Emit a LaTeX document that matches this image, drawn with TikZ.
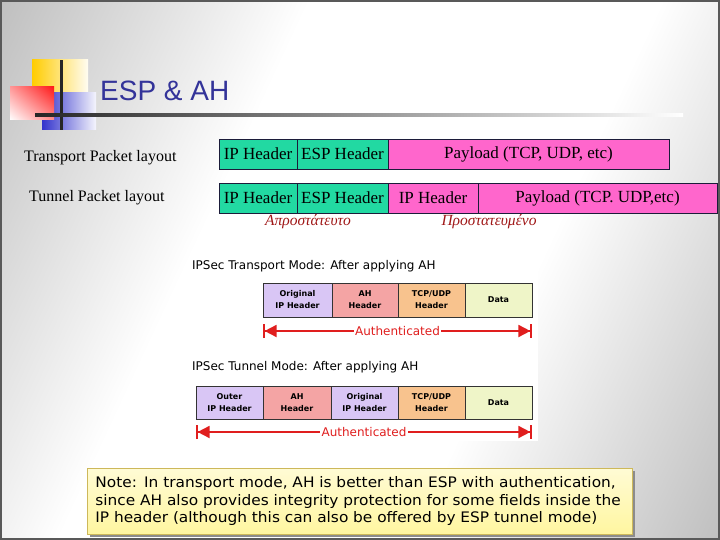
\documentclass[tikz,border=0pt]{standalone}
\usepackage{fontspec}
\setmainfont{Liberation Serif}
\newfontfamily\ttlfont{Liberation Sans}
\newfontfamily\comicfont{DejaVu Sans}
\newfontfamily\notefont[FakeStretch=1.06]{DejaVu Sans}
\usepackage{tikz}
\usetikzlibrary{arrows.meta,positioning,shadows,shadings}
\definecolor{ttl}{HTML}{333399}
\definecolor{mint}{HTML}{22D9A2}
\definecolor{magn}{HTML}{FF66CC}
\definecolor{edge}{HTML}{1C1C3A}
\definecolor{grk}{HTML}{A01818}
\definecolor{lav}{HTML}{D9C6F5}
\definecolor{rose}{HTML}{F4A4A4}
\definecolor{tang}{HTML}{F8C38E}
\definecolor{lime}{HTML}{EFF5C8}
\definecolor{authred}{HTML}{E01E1E}
\definecolor{notefill}{HTML}{FFF6A0}
\definecolor{noteedge}{HTML}{CDB85A}
\definecolor{yel}{HTML}{FFCC00}
\definecolor{blu}{HTML}{3333CC}
\pgfdeclarehorizontalshading{slidebg}{100bp}{color(0bp)=(black!45); color(38bp)=(white); color(62bp)=(white); color(100bp)=(black!45)}
\tikzset{
  pkt/.style={draw=edge,line width=0.8pt,minimum height=30pt,inner sep=0pt,outer sep=0pt,font=\fontsize{17}{17}\selectfont},
  gpkt/.style={pkt,fill=mint},
  mpkt/.style={pkt,fill=magn},
  ahbox/.style={draw=black!80,line width=0.6pt,inner sep=0pt,outer sep=0pt,align=center,font=\comicfont\bfseries\fontsize{8}{12}\selectfont},
  lab/.style={font=\fontsize{16}{16}\selectfont,anchor=west,inner sep=0pt},
  grklab/.style={font=\itshape\fontsize{15.5}{15.5}\selectfont,text=grk},
  modecap/.style={font=\comicfont\fontsize{12}{12}\selectfont,anchor=west,inner sep=0pt},
  auth/.style={{Bar[width=14pt,line width=1.6pt]Triangle[length=12pt,width=12pt]}-{Triangle[length=12pt,width=12pt]Bar[width=14pt,line width=1.6pt]},draw=authred,line width=1.8pt},
  authlab/.style={fill=white,inner sep=1.5pt,text=authred,font=\comicfont\fontsize{12}{12}\selectfont},
  note/.style={draw=noteedge,line width=0.8pt,top color=notefill!45!white,bottom color=notefill,
    drop shadow={shadow xshift=2.5pt,shadow yshift=-2.5pt,fill=black!45,opacity=1},
    text width=529pt,inner xsep=8pt,minimum height=66pt,align=left,
    font=\notefont\fontsize{14.5}{17.5}\selectfont},
}
\begin{document}
\begin{tikzpicture}[x=1pt,y=-1pt]
\useasboundingbox (0,0) rectangle (720,540);
\shade[shading=slidebg,shading angle=-25] (0,0) rectangle (720,540);
\draw[black!65,line width=2pt] (1,1) rectangle (719,539);
\shade[left color=yel,right color=yel!5] (32,60) rectangle (88,93);
\shade[left color=blu,right color=blu!5] (42,93) rectangle (96,130);
\shade[upper right=red!90,lower left=white,upper left=red!40!white,lower right=red!45!white] (10,87) rectangle (54,120);
\fill[black!85] (59.5,60) rectangle (62.5,130);
\shade[left color=black!85,right color=white] (35,113.5) rectangle (683,116.5);
\node[anchor=base west,inner sep=0pt,text=ttl,font=\ttlfont\fontsize{28}{28}\selectfont] (title) at (100,101) {ESP \& AH};

\node[lab] (tpl) at (24,158) {Transport Packet layout};
\node[lab] (tnl) at (29,198) {Tunnel Packet layout};
\node[gpkt,minimum width=78pt,anchor=north west] (ip1) at (219,139) {IP Header};
\node[gpkt,minimum width=91pt,right=0pt of ip1] (esp1) {ESP Header};
\node[mpkt,minimum width=281pt,right=0pt of esp1] (pay1) {Payload (TCP, UDP, etc)};
\node[gpkt,minimum width=78pt,anchor=north west] (ip2) at (219,183) {IP Header};
\node[gpkt,minimum width=91pt,right=0pt of ip2] (esp2) {ESP Header};
\node[mpkt,minimum width=90pt,right=0pt of esp2] (inip) {IP Header};
\node[mpkt,minimum width=239pt,right=0pt of inip] (pay2) {Payload (TCP. UDP,etc)};
\node[grklab] (unprot) at (308,222) {Απροστάτευτο};
\node[grklab] (prot) at (489,222) {Προστατευμένο};

\fill[white] (190,253) rectangle (538,441);
\node[modecap] (cap1) at (192,266) {IPSec Transport Mode: After applying AH};
\node[ahbox,fill=lav,minimum width=69pt,minimum height=34pt,anchor=north west] (oip1) at (263,283) {Original\\IP Header};
\node[ahbox,fill=rose,minimum width=66pt,minimum height=34pt,right=0pt of oip1] (ah1) {AH\\Header};
\node[ahbox,fill=tang,minimum width=67pt,minimum height=34pt,right=0pt of ah1] (tcp1) {TCP/UDP\\Header};
\node[ahbox,fill=lime,minimum width=67pt,minimum height=34pt,right=0pt of tcp1] (data1) {Data};
\coordinate (a1) at (263,331);
\coordinate (b1) at (532,331);
\draw[auth] (a1) -- node[authlab] (auth1) {Authenticated} (b1);

\node[modecap] (cap2) at (192,367) {IPSec Tunnel Mode: After applying AH};
\node[ahbox,fill=lav,minimum width=67pt,minimum height=33pt,anchor=north west] (out2) at (196,386) {Outer\\IP Header};
\node[ahbox,fill=rose,minimum width=68pt,minimum height=33pt,right=0pt of out2] (ah2) {AH\\Header};
\node[ahbox,fill=lav,minimum width=67pt,minimum height=33pt,right=0pt of ah2] (oip2) {Original\\IP Header};
\node[ahbox,fill=tang,minimum width=67pt,minimum height=33pt,right=0pt of oip2] (tcp2) {TCP/UDP\\Header};
\node[ahbox,fill=lime,minimum width=67pt,minimum height=33pt,right=0pt of tcp2] (data2) {Data};
\coordinate (a2) at (196,432);
\coordinate (b2) at (532,432);
\draw[auth] (a2) -- node[authlab] (auth2) {Authenticated} (b2);

\node[note,anchor=north west] (nt) at (87,468) {Note: In transport mode, AH is better than ESP with authentication,\\since AH also provides integrity protection for some fields inside the\\IP header (although this can also be offered by ESP tunnel mode)};
\end{tikzpicture}
\end{document}
